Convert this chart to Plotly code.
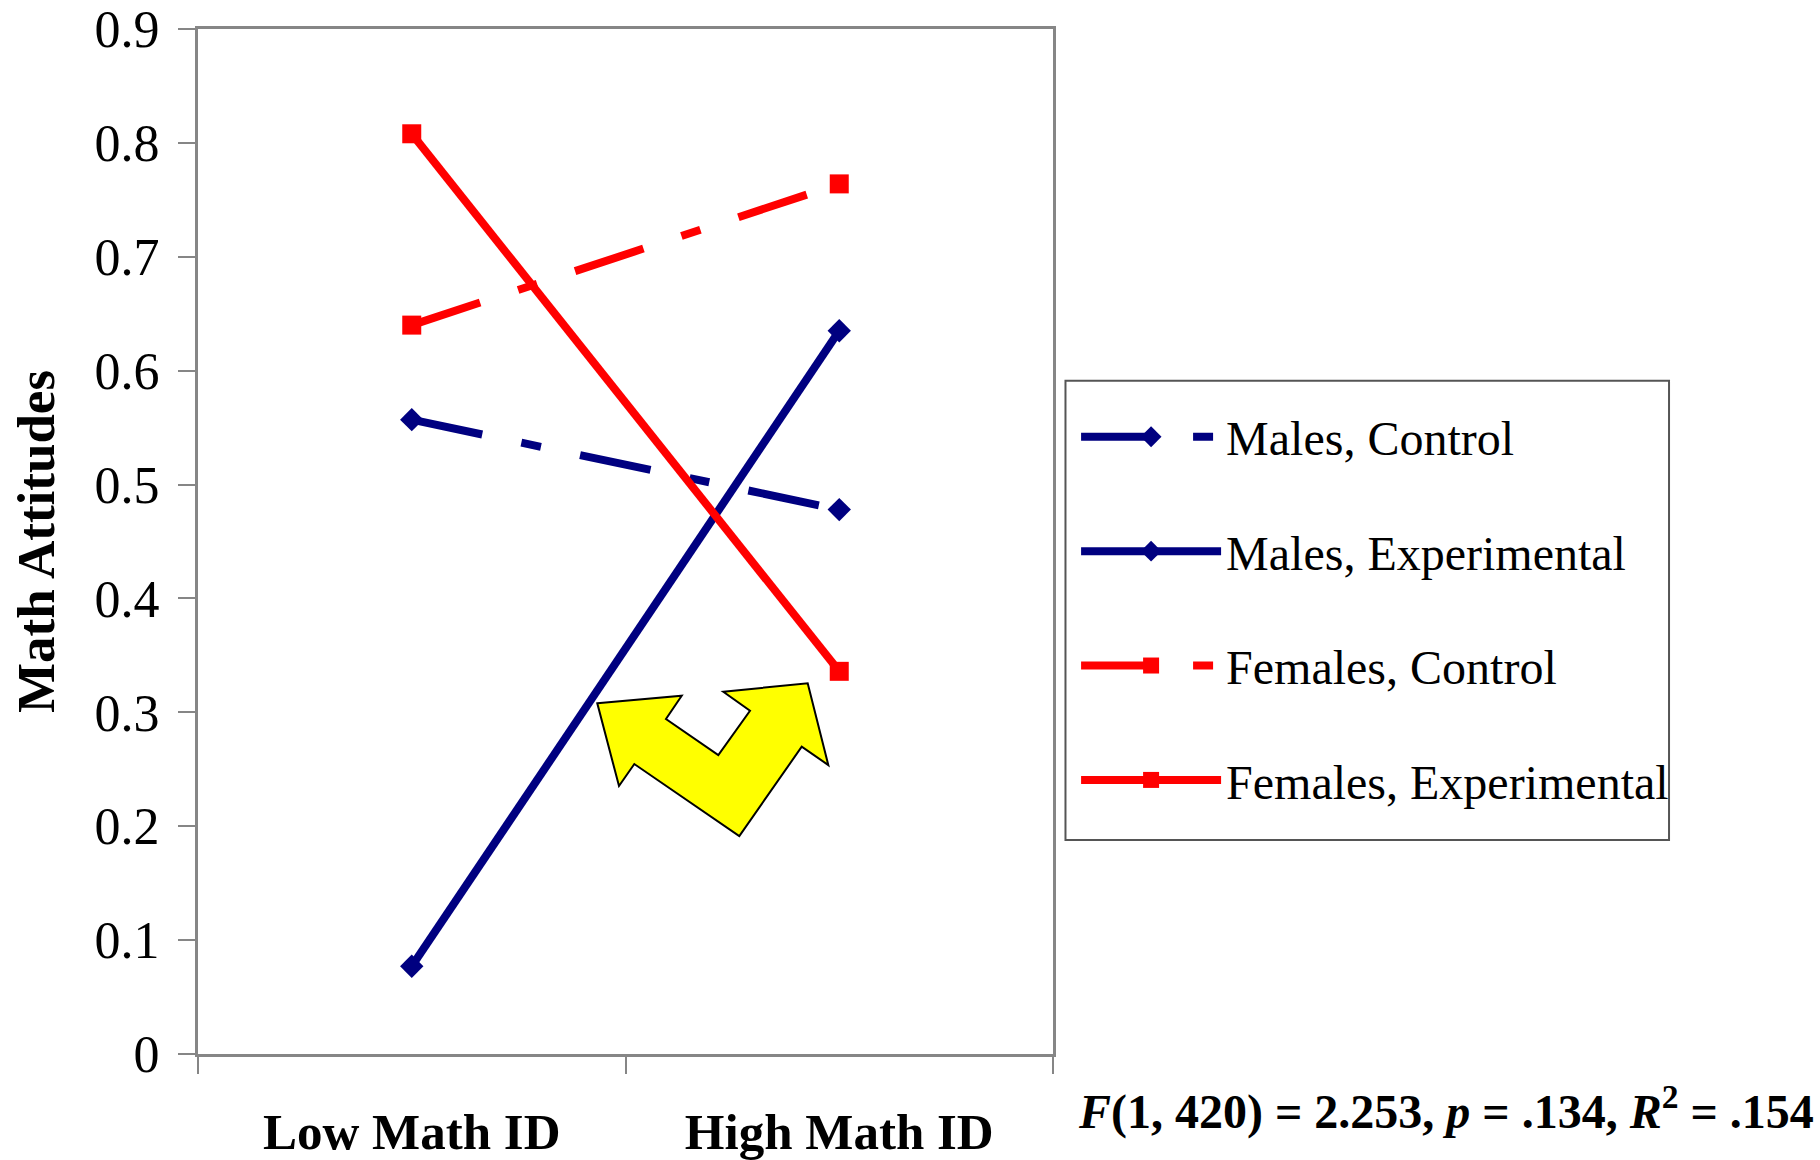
import plotly.graph_objects as go

# Interaction of gender, condition and math identification
categories = ["Low Math ID", "High Math ID"]
series_names = ["Males, Control", "Males, Experimental", "Females, Control", "Females, Experimental"]
males_control = [0.557, 0.478]
males_experimental = [0.077, 0.635]
females_control = [0.640, 0.764]
females_experimental = [0.808, 0.336]
y_ticks = [0, 0.1, 0.2, 0.3, 0.4, 0.5, 0.6, 0.7, 0.8, 0.9]
stats_text = "<b><i>F</i>(1, 420) = 2.253, <i>p</i> = .134, <i>R</i><sup>2</sup> = .154</b>"

# Outline of the yellow double-headed callout arrow (category-index / data units)
arrow_x = [0.434, 0.6315, 0.5947, 0.7171, 0.7912, 0.7288, 0.9262, 0.9744, 0.9122, 0.7662, 0.5206, 0.4848]
arrow_y = [0.3079, 0.3146, 0.2941, 0.2625, 0.3014, 0.3181, 0.3255, 0.2537, 0.2698, 0.1914, 0.2546, 0.2353]

NAVY = "#000080"
RED = "#FF0000"
AXIS_GRAY = "#868686"
FONT = "Liberation Serif"
CONTROL_DASH = "72px,40px,20px,40px"

styles = [
    (males_control, NAVY, CONTROL_DASH, "diamond", 18),
    (males_experimental, NAVY, "solid", "diamond", 18),
    (females_control, RED, CONTROL_DASH, "square", 19),
    (females_experimental, RED, "solid", "square", 19),
]

fig = go.Figure()
for i, (name, (vals, color, dash, symbol, msize)) in enumerate(zip(series_names, styles)):
    fig.add_trace(go.Scatter(
        x=categories, y=vals, name=name, mode="lines+markers",
        line=dict(color=color, width=8, dash=dash),
        marker=dict(symbol=symbol, size=msize, color=color),
        legendgroup=f"g{i}",
    ))

path = "M " + " L ".join(f"{x},{y}" for x, y in zip(arrow_x, arrow_y)) + " Z"
fig.add_shape(type="path", path=path, xref="x", yref="y",
              fillcolor="#FFFF00", line=dict(color="black", width=2), layer="above")

# Frame around the legend entries
fig.add_shape(type="rect", xref="paper", yref="paper",
              x0=1.0146, x1=1.7205, y0=0.2088, y1=0.6569,
              line=dict(color="#555555", width=2), fillcolor="rgba(0,0,0,0)")

fig.add_annotation(text=stats_text, xref="paper", yref="paper", x=1.46, y=-0.053,
                   xanchor="center", yanchor="middle", showarrow=False,
                   font=dict(family=FONT, size=48, color="black"))

fig.update_layout(
    width=1820, height=1160,
    margin=dict(l=198, r=767, t=29, b=106),
    paper_bgcolor="white", plot_bgcolor="white",
    font=dict(family=FONT, color="black"),
    showlegend=True,
    legend=dict(
        x=1.027, y=0.639, xanchor="left", yanchor="top",
        borderwidth=0, bgcolor="rgba(0,0,0,0)",
        font=dict(family=FONT, size=48, color="black"),
        tracegroupgap=49, itemwidth=140, traceorder="grouped",
    ),
)
fig.update_xaxes(
    type="category", range=[-0.5, 1.5], tickson="boundaries",
    showline=True, linecolor=AXIS_GRAY, linewidth=3, mirror=True,
    ticks="outside", ticklen=17, tickwidth=2, tickcolor=AXIS_GRAY,
    showgrid=False, zeroline=False, automargin=False,
    tickfont=dict(family=FONT, size=51, color="black"),
    ticklabelstandoff=31,
    tickvals=categories, ticktext=[f"<b>{c}</b>" for c in categories],
)
fig.update_yaxes(
    range=[0, 0.9], tickvals=y_ticks,
    showline=True, linecolor=AXIS_GRAY, linewidth=3, mirror=True,
    ticks="outside", ticklen=17, tickwidth=2, tickcolor=AXIS_GRAY,
    showgrid=False, zeroline=False, automargin=False,
    tickfont=dict(family=FONT, size=52, color="black"),
    ticklabelstandoff=8,
    title=dict(text="<b>Math Attitudes</b>", font=dict(family=FONT, size=53, color="black"), standoff=24),
)

fig.write_html("out.html")
